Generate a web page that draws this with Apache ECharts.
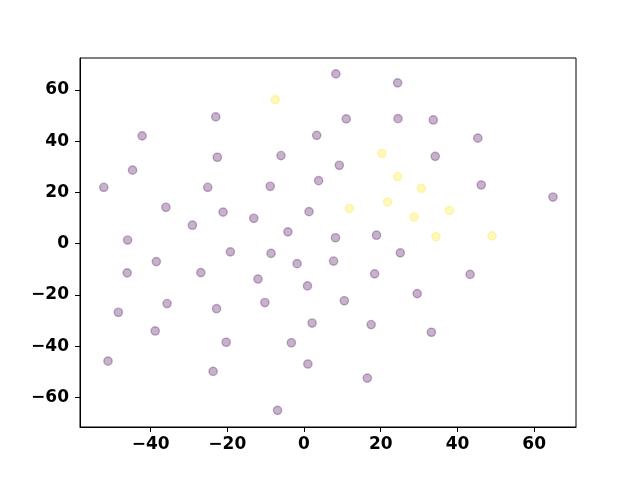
<!DOCTYPE html>
<html>
<head>
<meta charset="utf-8">
<script src="https://cdn.jsdelivr.net/npm/echarts@6/dist/echarts.min.js"></script>
<style>html,body{margin:0;padding:0;background:#fff}#c{width:640px;height:480px}</style>
</head>
<body>
<div id="c"></div>
<script>
// Class 0 (purple) points [x, y]
var class0Points = [
  [-23.0, 49.5], [-42.2, 42.1], [3.3, 42.3], [-22.6, 33.75], [-6.0, 34.4],
  [-44.7, 28.7], [-52.2, 22.0], [-25.1, 22.0], [-8.8, 22.4], [3.8, 24.6],
  [-36.0, 14.2], [-21.1, 12.3], [-29.1, 7.2], [-13.1, 9.9], [1.3, 12.5],
  [-4.2, 4.6], [-46.0, 1.4],
  [8.3, 66.3], [24.4, 62.8], [11.0, 48.7], [24.5, 48.8], [33.7, 48.3],
  [45.3, 41.2], [34.2, 34.1], [9.2, 30.6], [46.2, 22.9], [64.9, 18.2],
  [8.2, 2.3], [18.9, 3.3],
  [-19.2, -3.2], [-8.6, -3.8], [-38.5, -7.0], [-1.8, -7.8], [-46.1, -11.4],
  [-26.9, -11.3], [-12.0, -13.8], [0.9, -16.5], [-35.7, -23.4], [-10.2, -23.0],
  [-22.8, -25.4], [-48.4, -26.8], [2.1, -31.0], [-38.8, -34.1], [-20.3, -38.5],
  [-3.3, -38.7], [-51.1, -45.9], [1.0, -47.0], [-23.7, -49.9], [-6.9, -65.1],
  [25.1, -3.6], [7.7, -6.8], [18.4, -11.8], [43.3, -12.0], [29.5, -19.5],
  [10.5, -22.3], [17.5, -31.6], [33.2, -34.6], [16.5, -52.5]
];
// Class 1 (yellow) points [x, y]
var class1Points = [
  [-7.5, 56.25], [20.3, 35.2], [24.4, 26.2], [30.6, 21.6], [11.8, 13.8],
  [21.8, 16.2], [28.7, 10.4], [37.9, 12.9], [34.4, 2.7], [49.0, 3.0]
];
var xTicks = [-40, -20, 0, 20, 40, 60];
var yTicks = [-60, -40, -20, 0, 20, 40, 60];

var fmt = function (v) { return String(v).replace('-', '\u2212'); };
var labelStyle = {
  fontFamily: 'DejaVu Sans', fontWeight: 'bold', fontSize: 17, color: '#000'
};
var chart = echarts.init(document.getElementById('c'), null, { renderer: 'canvas' });
chart.setOption({
  animation: false,
  backgroundColor: '#fff',
  grid: {
    left: 80, right: 64, top: 58, bottom: 53,
    show: true, borderColor: '#000', borderWidth: 1, backgroundColor: 'transparent'
  },
  xAxis: {
    type: 'value', min: -58.4, max: 70.9, position: 'bottom',
    splitLine: { show: false },
    axisLine: { show: true, onZero: false, lineStyle: { color: '#000', width: 1 } },
    axisTick: { show: true, inside: false, length: 5, lineStyle: { color: '#000', width: 1 }, customValues: xTicks },
    axisLabel: Object.assign({ margin: 9, formatter: fmt, customValues: xTicks }, labelStyle)
  },
  yAxis: {
    type: 'value', min: -71.6, max: 72.5, position: 'left',
    splitLine: { show: false },
    axisLine: { show: true, onZero: false, lineStyle: { color: '#000', width: 1 } },
    axisTick: { show: true, inside: false, length: 5, lineStyle: { color: '#000', width: 1 }, customValues: yTicks },
    axisLabel: Object.assign({ margin: 11, formatter: fmt, customValues: yTicks }, labelStyle)
  },
  series: [
    {
      type: 'scatter', data: class0Points, symbolSize: 8.3,
      itemStyle: { color: '#440154', borderColor: '#440154', borderWidth: 1.4, opacity: 0.3 }
    },
    {
      type: 'scatter', data: class1Points, symbolSize: 8.3,
      itemStyle: { color: '#fde725', borderColor: '#fde725', borderWidth: 1.4, opacity: 0.3 }
    }
  ]
});
</script>
</body>
</html>
